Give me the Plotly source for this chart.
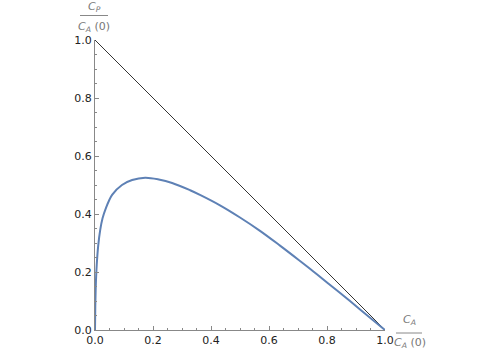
import plotly.graph_objects as go

# Data
ca_ratio = [0.0, 0.001, 0.003, 0.006, 0.011, 0.018, 0.026, 0.036, 0.059, 0.093,
            0.128, 0.173, 0.22, 0.266, 0.328, 0.362, 0.431, 0.5, 0.569, 0.638,
            0.707, 0.753, 0.8, 0.857, 0.914, 0.96, 1.0]
cp_ratio = [0.0, 0.08, 0.16, 0.225, 0.29, 0.345, 0.385, 0.416, 0.466, 0.5,
            0.517, 0.525, 0.519, 0.507, 0.482, 0.466, 0.43, 0.388, 0.342, 0.291,
            0.238, 0.202, 0.164, 0.118, 0.071, 0.033, 0.0]
diag_x = [0.0, 1.0]
diag_y = [1.0, 0.0]
tick_vals = [0.0, 0.2, 0.4, 0.6, 0.8, 1.0]
tick_text = ["0.0", "0.2", "0.4", "0.6", "0.8", "1.0"]

L, R, T, B = 95, 115, 40, 20
W, H = 500, 350
PW, PH = W - L - R, H - T - B


def px_to_paper(px, py):
    return (px - L) / PW, (H - B - py) / PH


fig = go.Figure()
fig.add_trace(go.Scatter(x=diag_x, y=diag_y, mode="lines",
                         line=dict(color="black", width=0.8), cliponaxis=False,
                         hoverinfo="skip"))
fig.add_trace(go.Scatter(x=ca_ratio, y=cp_ratio, mode="lines",
                         line=dict(color="#5E81B5", width=2, shape="spline", smoothing=1),
                         cliponaxis=False))

axis_common = dict(
    range=[0, 1], showgrid=False, zeroline=False, showline=True,
    linecolor="#888888", linewidth=1, automargin=False,
    ticks="inside", ticklen=4, tickcolor="#888888", tickwidth=1,
    tickvals=tick_vals, ticktext=tick_text,
    tickfont=dict(family="DejaVu Sans", size=11, color="#222222"),
    minor=dict(dtick=0.05, ticks="inside", ticklen=2, tickcolor="#888888", tickwidth=1),
)
fig.update_xaxes(**axis_common)
fig.update_yaxes(**axis_common)

lab_font = dict(family="DejaVu Sans", size=11, color="#777777")
annos = [
    (94, 7, "<i>C<sub>P</sub></i>"),
    (94, 27, "<i>C<sub>A</sub></i> (0)"),
    (409, 320, "<i>C<sub>A</sub></i>"),
    (410, 343, "<i>C<sub>A</sub></i> (0)"),
]
for ax, ay, txt in annos:
    xp, yp = px_to_paper(ax, ay)
    fig.add_annotation(x=xp, y=yp, xref="paper", yref="paper",
                       text=txt, showarrow=False, font=lab_font,
                       xanchor="center", yanchor="middle")

# fraction bars
for x0, x1, yy in [(80, 108, 15.5), (396, 422, 333)]:
    xa, ya = px_to_paper(x0, yy)
    xb, _ = px_to_paper(x1, yy)
    fig.add_shape(type="line", xref="paper", yref="paper",
                  x0=xa, x1=xb, y0=ya, y1=ya,
                  line=dict(color="#888888", width=1))

fig.update_layout(
    width=W, height=H,
    margin=dict(l=L, r=R, t=T, b=B, autoexpand=False),
    paper_bgcolor="white", plot_bgcolor="white",
    showlegend=False,
)
fig.write_html("out.html")
